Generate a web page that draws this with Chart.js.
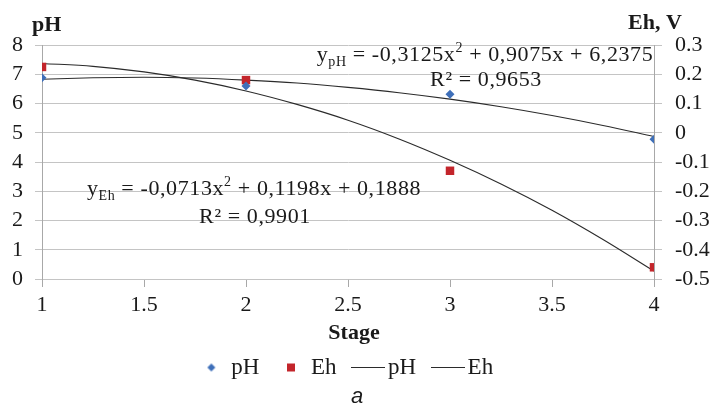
<!DOCTYPE html>
<html>
<head>
<meta charset="utf-8">
<script src="https://cdn.jsdelivr.net/npm/chart.js@4"></script>
<style>
  html, body { margin: 0; padding: 0; background: #fff; }
  #wrap { width: 712px; height: 406px; }
</style>
</head>
<body>
<div id="wrap"><canvas id="chart" width="712" height="406"></canvas></div>
<script>
const stages = [1, 2, 3, 4];
const phMeasured = [6.88, 6.6, 6.32, 4.78];
const ehMeasured = [0.225, 0.18, -0.13, -0.46];

// trend curves
const trendStages = [1, 1.25, 1.5, 1.75, 2, 2.25, 2.5, 2.75, 3, 3.25, 3.5, 3.75, 4];
const phTrend = [6.83, 6.88, 6.90, 6.87, 6.80, 6.70, 6.55, 6.37, 6.15, 5.89, 5.59, 5.25, 4.87];
const ehTrend = [0.237, 0.227, 0.208, 0.180, 0.143, 0.097, 0.043, -0.021, -0.094, -0.175, -0.265, -0.365, -0.473];

const xTicks = [1, 1.5, 2, 2.5, 3, 3.5, 4];
const phTicks = [0, 1, 2, 3, 4, 5, 6, 7, 8];
const ehTicks = [-0.5, -0.4, -0.3, -0.2, -0.1, 0, 0.1, 0.2, 0.3];
const ehTickLabels = ['-0.5', '-0.4', '-0.3', '-0.2', '-0.1', '0', '0.1', '0.2', '0.3'];

const eqPh = [['y', 'n'], ['pH', 'sub'], [' = -0,3125x', 'n'], ['2', 'sup'], [' + 0,9075x + 6,2375', 'n']];
const r2Ph = 'R² = 0,9653';
const eqEh = [['y', 'n'], ['Eh', 'sub'], [' = -0,0713x', 'n'], ['2', 'sup'], [' + 0,1198x + 0,1888', 'n']];
const r2Eh = 'R² = 0,9901';

const BLUE = '#3e6fb9';
const RED = '#c3252b';
const LINE = '#2b2b2b';
const GRID = '#c4c4c4';
const AXIS = '#a8a8a8';
const INK = '#1a1a1a';
const SERIF = '"Liberation Serif", "Times New Roman", serif';

function glyph(w, h, draw) {
  const c = document.createElement('canvas');
  c.width = w; c.height = h;
  draw(c.getContext('2d'));
  return c;
}
const legendDiamond = glyph(10, 10, g => {
  g.fillStyle = BLUE; g.beginPath();
  g.moveTo(5, 1); g.lineTo(9, 5); g.lineTo(5, 9); g.lineTo(1, 5); g.closePath(); g.fill();
});
const legendSquare = glyph(10, 10, g => { g.fillStyle = RED; g.fillRect(1, 1, 8, 8); });
const legendLine = glyph(34, 3, g => { g.fillStyle = LINE; g.fillRect(0, 1, 34, 1); });

function setFont(ctx, k) {
  ctx.font = (k === 'n' ? '22px ' : '14px ') + SERIF;
}
function richWidth(ctx, parts) {
  let w = 0;
  parts.forEach(([t, k]) => { setFont(ctx, k); w += ctx.measureText(t).width; });
  return w;
}
function drawRich(ctx, parts, cx, base) {
  let x = cx - richWidth(ctx, parts) / 2;
  parts.forEach(([t, k]) => {
    setFont(ctx, k);
    const dy = k === 'sub' ? 5 : k === 'sup' ? -9 : 0;
    ctx.fillText(t, x, base + dy);
    x += ctx.measureText(t).width;
  });
}

const textPlugin = {
  id: 'texts',
  afterDraw(chart) {
    const ctx = chart.ctx;
    ctx.save();
    ctx.fillStyle = INK;
    ctx.textBaseline = 'alphabetic';
    ctx.textAlign = 'left';
    ctx.letterSpacing = '0.6px';
    drawRich(ctx, eqPh, 485, 61);
    drawRich(ctx, [[r2Ph, 'n']], 486, 86);
    drawRich(ctx, eqEh, 254, 195);
    drawRich(ctx, [[r2Eh, 'n']], 255, 223);
    ctx.letterSpacing = '0px';
    ctx.font = 'bold 22px ' + SERIF;
    ctx.fillText('pH', 32, 31);
    ctx.fillText('Eh, V', 628, 29);
    ctx.textAlign = 'center';
    ctx.fillText('Stage', 354, 339);
    ctx.font = 'italic 22px "Liberation Sans", Arial, sans-serif';
    ctx.fillText('a', 357, 403);
    ctx.restore();
  }
};

const tickFont = { family: SERIF, size: 22 };

new Chart(document.getElementById('chart'), {
  type: 'scatter',
  data: {
    datasets: [
      { label: 'pH', data: stages.map((s, i) => ({ x: s, y: phMeasured[i] })), yAxisID: 'y',
        pointStyle: 'rectRot', pointRadius: 4.5, backgroundColor: BLUE, borderColor: BLUE, borderWidth: 0 },
      { label: 'Eh', data: stages.map((s, i) => ({ x: s, y: ehMeasured[i] })), yAxisID: 'y2',
        pointStyle: 'rect', pointRadius: 6, backgroundColor: RED, borderColor: RED, borderWidth: 0 },
      { label: 'pH', data: trendStages.map((s, i) => ({ x: s, y: phTrend[i] })), yAxisID: 'y',
        showLine: true, pointRadius: 0, borderColor: LINE, borderWidth: 1.1, cubicInterpolationMode: 'monotone' },
      { label: 'Eh', data: trendStages.map((s, i) => ({ x: s, y: ehTrend[i] })), yAxisID: 'y2',
        showLine: true, pointRadius: 0, borderColor: LINE, borderWidth: 1.1, cubicInterpolationMode: 'monotone' },
    ],
  },
  options: {
    responsive: false,
    animation: false,
    events: [],
    layout: { padding: { top: 45, left: 0, right: 0, bottom: 17 } },
    plugins: {
      tooltip: { enabled: false },
      legend: {
        position: 'bottom',
        fullSize: false,
        labels: {
          usePointStyle: true,
          boxWidth: 17,
          boxHeight: 17,
          padding: 23,
          color: INK,
          font: { family: SERIF, size: 23 },
          generateLabels(chart) {
            const items = Chart.defaults.plugins.legend.labels.generateLabels(chart);
            const marks = [legendDiamond, legendSquare, legendLine, legendLine];
            return items.map((it, i) => ({ ...it, pointStyle: marks[i], lineWidth: 0 }));
          },
        },
      },
    },
    scales: {
      x: {
        type: 'linear', min: 1, max: 4,
        afterBuildTicks: s => { s.ticks = xTicks.map(v => ({ value: v })); },
        afterFit: s => { s.height = 54; },
        ticks: { font: tickFont, color: INK, padding: 5, callback: v => String(v), maxRotation: 0, autoSkip: false },
        grid: { drawOnChartArea: false, drawTicks: true, tickLength: 8, color: AXIS },
        border: { display: false },
      },
      y: {
        position: 'left', min: 0, max: 8,
        afterBuildTicks: s => { s.ticks = phTicks.map(v => ({ value: v })); },
        afterFit: s => { s.width = 42; },
        ticks: { font: tickFont, color: INK, padding: 12, autoSkip: false, callback: v => String(v) },
        grid: { color: GRID, tickLength: 7 },
        border: { display: true, color: AXIS },
      },
      y2: {
        position: 'right', min: -0.5, max: 0.3,
        afterBuildTicks: s => { s.ticks = ehTicks.map(v => ({ value: v })); },
        afterFit: s => { s.width = 58; },
        ticks: { font: tickFont, color: INK, padding: 13, autoSkip: false, callback: (v, i) => ehTickLabels[i] },
        grid: { drawOnChartArea: false, color: GRID, tickLength: 8 },
        border: { display: true, color: AXIS },
      },
    },
  },
  plugins: [textPlugin],
});
</script>
</body>
</html>
